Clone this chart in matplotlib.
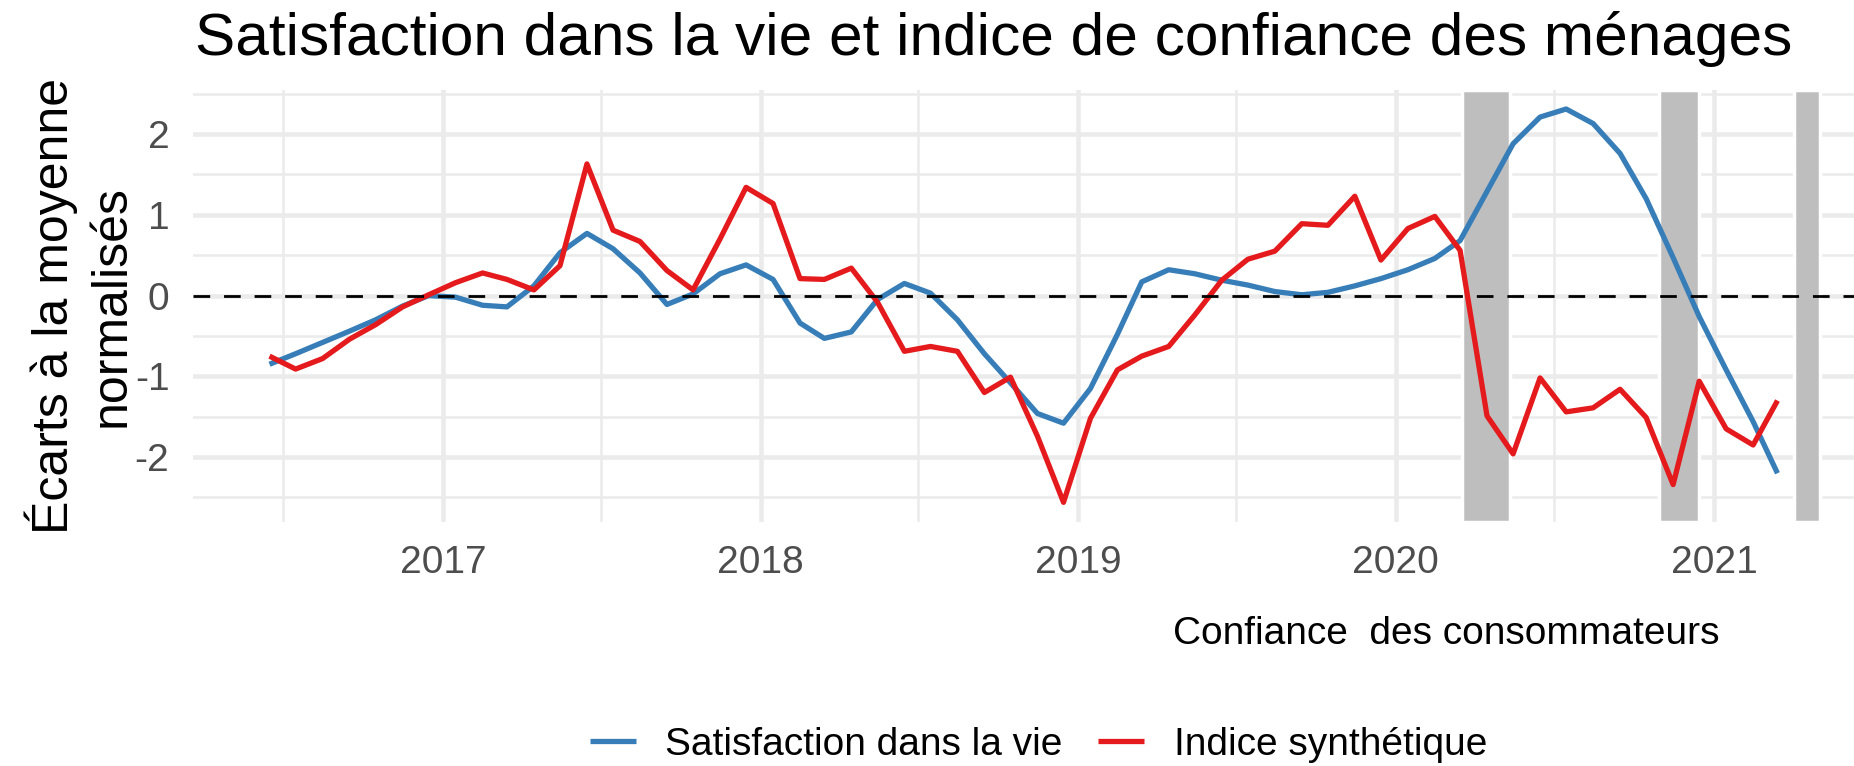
import pandas as pd
import matplotlib
matplotlib.use("Agg")
import matplotlib.pyplot as plt
import matplotlib.dates as mdates
from matplotlib.ticker import MultipleLocator

plt.rcParams['font.family'] = ['Liberation Sans', 'DejaVu Sans']
plt.rcParams['axes.unicode_minus'] = False

# monthly points, mid-month, June 2016 -> March 2021
months = pd.date_range("2016-06-01", "2021-03-01", freq="MS") + pd.Timedelta(days=14)

satisfaction = [
    -0.85, -0.72, -0.58, -0.44, -0.30, -0.13, 0.00,
    -0.02, -0.12, -0.14, 0.12, 0.53, 0.77, 0.58, 0.28, -0.11, 0.02, 0.27, 0.38,
    0.20, -0.34, -0.53, -0.45, -0.05, 0.15, 0.03, -0.30, -0.72, -1.08, -1.46, -1.58,
    -1.15, -0.48, 0.17, 0.32, 0.27, 0.19, 0.13, 0.05, 0.01, 0.04, 0.12, 0.21,
    0.32, 0.46, 0.68, 1.29, 1.88, 2.21, 2.31, 2.13, 1.76, 1.20, 0.47, -0.26,
    -0.92, -1.56, -2.20,
]
indice = [
    -0.75, -0.91, -0.78, -0.54, -0.36, -0.14, 0.01,
    0.16, 0.28, 0.20, 0.07, 0.37, 1.63, 0.81, 0.67, 0.31, 0.07, 0.70, 1.34,
    1.14, 0.21, 0.20, 0.34, -0.08, -0.69, -0.63, -0.69, -1.20, -1.01, -1.74, -2.56,
    -1.52, -0.92, -0.75, -0.63, -0.24, 0.19, 0.45, 0.55, 0.89, 0.87, 1.23, 0.44,
    0.83, 0.98, 0.56, -1.49, -1.96, -1.02, -1.44, -1.39, -1.16, -1.51, -2.34, -1.06,
    -1.65, -1.85, -1.30,
]

# confinements
lockdown_start = ["2020-03-17", "2020-10-30", "2021-04-03"]
lockdown_end = ["2020-05-11", "2020-12-15", "2021-05-03"]

blue = "#377EB8"
red = "#E41A1C"

fig = plt.figure(figsize=(18.54, 7.66), dpi=100)
ax = fig.add_axes([0.1041, 0.3189, 0.8959, 0.5641])

for s, e in zip(lockdown_start, lockdown_end):
    ax.axvspan(pd.Timestamp(s), pd.Timestamp(e), facecolor="#BEBEBE",
               edgecolor="white", linewidth=2.5, zorder=1)

ax.plot(months, satisfaction, color=blue, lw=3.8, zorder=2,
        solid_joinstyle="round", solid_capstyle="butt", label="Satisfaction dans la vie")
ax.plot(months, indice, color=red, lw=3.8, zorder=2,
        solid_joinstyle="round", solid_capstyle="butt", label="Indice synthétique")
ax.axhline(0, color="black", lw=2, dashes=(6, 5), zorder=3)

ax.set_xlim(pd.Timestamp("2016-03-19"), pd.Timestamp("2021-06-11"))
ax.set_ylim(-2.80, 2.55)

ax.xaxis.set_major_locator(mdates.YearLocator())
ax.xaxis.set_minor_locator(mdates.MonthLocator(bymonth=7))
ax.xaxis.set_major_formatter(mdates.DateFormatter("%Y"))
ax.yaxis.set_major_locator(MultipleLocator(1))
ax.yaxis.set_minor_locator(MultipleLocator(0.5))

ax.set_axisbelow(True)
ax.grid(which="major", color="#EBEBEB", lw=3.3)
ax.grid(which="minor", color="#EBEBEB", lw=1.8)
for sp in ax.spines.values():
    sp.set_visible(False)
ax.tick_params(which="both", length=0)
ax.tick_params(axis="both", labelsize=28, labelcolor="#4D4D4D")
ax.tick_params(axis="x", pad=17)
ax.tick_params(axis="y", pad=17)

fig.text(0.1052, 0.928, "Satisfaction dans la vie et indice de confiance des ménages",
         fontsize=43.5, va="baseline", ha="left")
fig.text(0.0429, 0.601, "Écarts à la moyenne\nnormalisés", rotation=90,
         fontsize=36, ha="center", va="center", linespacing=1.3)
fig.text(0.9277, 1 - 644 / 766, "Confiance  des consommateurs",
         fontsize=28, ha="right", va="baseline")

fig.legend(loc="center", bbox_to_anchor=(0.56, 1 - 745 / 766), ncol=2,
           frameon=False, fontsize=28, handlelength=1.2, handletextpad=0.75,
           columnspacing=0.9)

fig.savefig("out.png", dpi=100)
